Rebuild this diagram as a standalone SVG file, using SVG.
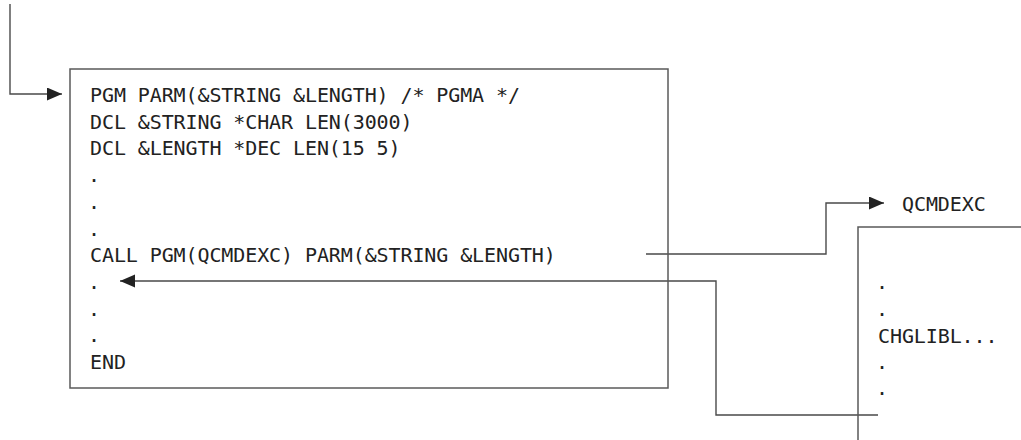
<svg xmlns="http://www.w3.org/2000/svg" width="1021" height="440" viewBox="0 0 1021 440">
<style>
.box{fill:none;stroke:#5a5a5a;stroke-width:1.5}
.conn{fill:none;stroke:#4a4a4a;stroke-width:1.4}
.t{font-family:"DejaVu Sans Mono","Liberation Mono",monospace;font-size:20px;letter-spacing:-0.1px;fill:#222}
</style>
<defs>
<marker id="ah" markerUnits="userSpaceOnUse" markerWidth="16" markerHeight="14" refX="15" refY="6.5" orient="auto">
<path d="M0,0 L15,6.5 L0,13 Z" fill="#222"/>
</marker>
</defs>
<g id="connectors">
<path class="conn" d="M10,4 V94 H62" marker-end="url(#ah)"/>
<path class="conn" d="M646,254 H826 V203 H884" marker-end="url(#ah)"/>
<path class="conn" d="M878,415 H716 V281 H120" marker-end="url(#ah)"/>
</g>
<g id="pgma">
<rect class="box" x="70" y="69" width="598" height="319"/>
<text class="t" x="90" y="102">PGM PARM(&amp;STRING &amp;LENGTH) /* PGMA */</text>
<text class="t" x="90" y="128.7">DCL &amp;STRING *CHAR LEN(3000)</text>
<text class="t" x="90" y="155.4">DCL &amp;LENGTH *DEC LEN(15 5)</text>
<text class="t" x="88" y="182">.</text>
<text class="t" x="88" y="208.8">.</text>
<text class="t" x="88" y="235.5">.</text>
<text class="t" x="90" y="262.2">CALL PGM(QCMDEXC) PARM(&amp;STRING &amp;LENGTH)</text>
<text class="t" x="88" y="288.9">.</text>
<text class="t" x="88" y="315.6">.</text>
<text class="t" x="88" y="342.3">.</text>
<text class="t" x="90" y="369">END</text>
</g>
<g id="qcmdexc-label">
<text class="t" x="902" y="210.5">QCMDEXC</text>
</g>
<g id="qcmdexc">
<path class="box" d="M858,440 V227 H1021"/>
<text class="t" x="876" y="289">.</text>
<text class="t" x="876" y="315.6">.</text>
<text class="t" x="878" y="342.5">CHGLIBL...</text>
<text class="t" x="876" y="368.5">.</text>
<text class="t" x="876" y="395">.</text>
</g>
</svg>
